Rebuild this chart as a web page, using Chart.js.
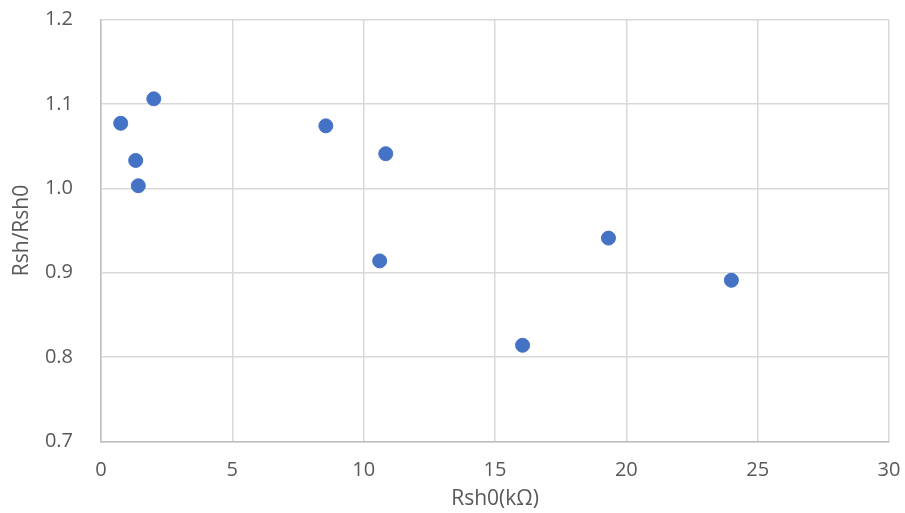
<!DOCTYPE html>
<html>
<head>
<meta charset="utf-8">
<script src="https://cdn.jsdelivr.net/npm/chart.js@4"></script>
<style>
  html, body { margin: 0; padding: 0; background: #fff; }
  #wrap { width: 905px; height: 513px; }
</style>
</head>
<body>
<div id="wrap"><canvas id="scatter"></canvas></div>
<script>
// Rsh0 (kΩ) against normalised Rsh
const rsh0 = [0.75, 2.01, 1.32, 1.42, 8.56, 10.84, 10.61, 16.05, 19.32, 24.0];
const rshRatio = [1.077, 1.106, 1.033, 1.003, 1.074, 1.041, 0.914, 0.814, 0.941, 0.891];

const xTitle = 'Rsh0(kΩ)';
const yTitle = 'Rsh/Rsh0';

const tickFont = { family: 'Open Sans', size: 20 };
const titleFont = { family: 'Open Sans', size: 21 };
const gridColor = '#d9d9d9';
const textColor = '#595959';

const points = rsh0.map((x, i) => ({ x: x, y: rshRatio[i] }));

new Chart(document.getElementById('scatter').getContext('2d'), {
  type: 'scatter',
  data: {
    datasets: [{
      data: points,
      backgroundColor: '#4472c4',
      borderColor: '#4472c4',
      pointRadius: 7,
      pointHoverRadius: 7
    }]
  },
  options: {
    responsive: true,
    maintainAspectRatio: false,
    animation: false,
    layout: { padding: { top: 19.5, right: 16, left: 0, bottom: 0 } },
    plugins: { legend: { display: false }, tooltip: { enabled: false } },
    scales: {
      x: {
        type: 'linear',
        min: 0,
        max: 30,
        ticks: { stepSize: 5, color: textColor, font: tickFont, padding: 17, maxRotation: 0 },
        grid: { color: gridColor, lineWidth: 1.5, drawTicks: false },
        border: { color: '#bfbfbf', width: 1.5 },
        title: { display: true, text: xTitle, color: textColor, font: titleFont, padding: { top: 0, bottom: 1.5 } },
        // keep the plot edge fixed; labels may hang into the margin
        afterFit: s => { s.height = 71.5; s.paddingLeft = 0; s.paddingRight = 0; }
      },
      y: {
        min: 0.7,
        max: 1.2,
        ticks: { stepSize: 0.1, color: textColor, font: tickFont, padding: 28, callback: v => v.toFixed(1) },
        grid: { color: gridColor, lineWidth: 1.5, drawTicks: false },
        border: { color: '#bfbfbf', width: 1.5 },
        title: { display: true, text: yTitle, color: textColor, font: titleFont, padding: { top: 9.5, bottom: 0 } },
        afterFit: s => { s.width = 101; s.paddingTop = 0; s.paddingBottom = 0; }
      }
    }
  }
});
</script>
</body>
</html>
